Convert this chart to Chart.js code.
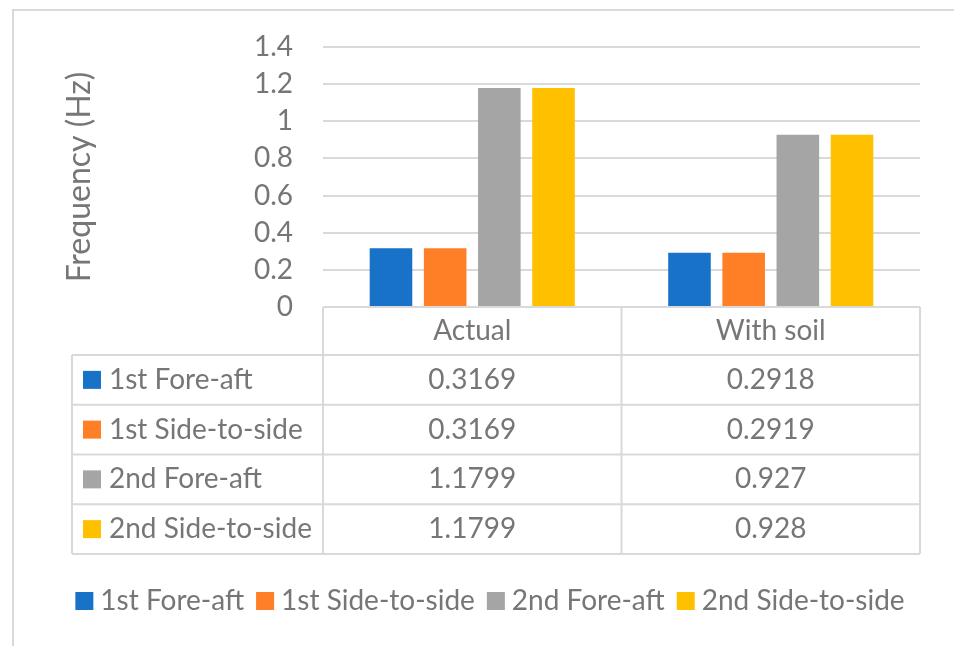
<!DOCTYPE html>
<html>
<head>
<meta charset="utf-8">
<title>Frequency chart</title>
<script src="https://cdn.jsdelivr.net/npm/chart.js@4.4.1/dist/chart.umd.min.js"></script>
<style>
  html, body { margin: 0; padding: 0; background: #fff; }
  #wrap { position: relative; width: 954px; height: 646px; overflow: hidden; }
  #frame { position: absolute; left: 12px; top: 9px; width: 960px; height: 660px;
           border-left: 2px solid #d9d9d9; border-top: 2px solid #d9d9d9; }
  canvas { position: absolute; left: 0; top: 0; }
</style>
</head>
<body>
<div id="wrap">
  <div id="frame"></div>
  <canvas id="freqChart" width="954" height="646"></canvas>
</div>
<script>
// data
const categories = ["Actual", "With soil"];
const seriesNames = ["1st Fore-aft", "1st Side-to-side", "2nd Fore-aft", "2nd Side-to-side"];
const firstForeAft = [0.3169, 0.2918];
const firstSideToSide = [0.3169, 0.2919];
const secondForeAft = [1.1799, 0.927];
const secondSideToSide = [1.1799, 0.928];
const yTicks = [0, 0.2, 0.4, 0.6, 0.8, 1, 1.2, 1.4];

const colors = ['#1872c8', '#ff7f27', '#a5a5a5', '#ffc000'];
const textColor = '#767676';
const lineColor = '#d9d9d9';
const fontFamily = 'Lato, "Open Sans", sans-serif';
const fontSize = 28;

// data table under the plot area + legend row, columns follow the x scale
const dataTable = {
    id: 'dataTable',
    afterDraw(chart) {
        const ctx = chart.ctx;
        const x = chart.scales.x;
        const top = chart.chartArea.bottom;
        const headerH = 48;
        const rowH = 49.75;
        const tableLeft = 72;
        const mid = (x.getPixelForValue(0) + x.getPixelForValue(1)) / 2;
        const cols = [x.left, mid, x.right];
        const datasets = chart.data.datasets;
        const bottom = top + headerH + rowH * datasets.length;

        ctx.save();
        ctx.strokeStyle = lineColor;
        ctx.lineWidth = 2;
        ctx.beginPath();
        ctx.moveTo(x.left, top);
        ctx.lineTo(x.right, top);
        for (let i = 0; i <= datasets.length; i++) {
            const yy = top + headerH + rowH * i;
            ctx.moveTo(tableLeft, yy);
            ctx.lineTo(x.right, yy);
        }
        ctx.moveTo(tableLeft, top + headerH);
        ctx.lineTo(tableLeft, bottom);
        cols.forEach(c => {
            ctx.moveTo(c, top);
            ctx.lineTo(c, bottom);
        });
        ctx.stroke();

        ctx.font = fontSize + 'px ' + fontFamily;
        ctx.textBaseline = 'middle';
        ctx.textAlign = 'center';
        ctx.fillStyle = textColor;
        chart.data.labels.forEach((c, i) => {
            ctx.fillText(c, x.getPixelForValue(i), top + headerH / 2);
        });
        datasets.forEach((ds, r) => {
            const yy = top + headerH + rowH * (r + 0.5);
            ctx.fillStyle = ds.backgroundColor;
            ctx.fillRect(tableLeft + 11, yy - 9, 18, 18);
            ctx.fillStyle = textColor;
            ctx.textAlign = 'left';
            ctx.fillText(ds.label, tableLeft + 37, yy);
            ctx.textAlign = 'center';
            ds.data.forEach((v, i) => {
                ctx.fillText(String(v), x.getPixelForValue(i), yy);
            });
        });

        // legend row
        const legendY = 601;
        const box = 18, boxGap = 7, itemGap = 12;
        const widths = datasets.map(ds => box + boxGap + ctx.measureText(ds.label).width);
        const total = widths.reduce((a, b) => a + b, 0) + itemGap * (widths.length - 1);
        let lx = 490 - total / 2;
        ctx.textAlign = 'left';
        datasets.forEach((ds, i) => {
            ctx.fillStyle = ds.backgroundColor;
            ctx.fillRect(lx, legendY - box / 2, box, box);
            ctx.fillStyle = textColor;
            ctx.fillText(ds.label, lx + box + boxGap, legendY);
            lx += widths[i] + itemGap;
        });
        ctx.restore();
    }
};

const freqChart = document.getElementById('freqChart');

new Chart(freqChart, {
    type: 'bar',
    data: {
        labels: categories,
        datasets: [
            { label: seriesNames[0], data: firstForeAft, backgroundColor: colors[0] },
            { label: seriesNames[1], data: firstSideToSide, backgroundColor: colors[1] },
            { label: seriesNames[2], data: secondForeAft, backgroundColor: colors[2] },
            { label: seriesNames[3], data: secondSideToSide, backgroundColor: colors[3] },
        ]
    },
    options: {
        responsive: false,
        animation: false,
        categoryPercentage: 0.726,
        barPercentage: 0.786,
        layout: {
            padding: { left: 60, right: 34, top: 47, bottom: 39 }
        },
        plugins: {
            legend: { display: false },
            tooltip: { enabled: false }
        },
        scales: {
            x: {
                grid: { display: false },
                border: { display: false },
                ticks: { display: false },
                afterFit(scale) { scale.height = 300; }
            },
            y: {
                min: 0,
                max: 1.4,
                afterBuildTicks(scale) {
                    scale.ticks = yTicks.map(v => ({ value: v }));
                },
                afterFit(scale) { scale.width = 263; },
                grid: { color: lineColor, lineWidth: 2, drawTicks: false },
                border: { display: false },
                ticks: {
                    padding: 30,
                    color: textColor,
                    font: { family: fontFamily, size: fontSize },
                    callback: (v) => String(+Number(v).toFixed(1))
                },
                title: {
                    display: true,
                    text: 'Frequency (Hz)',
                    color: textColor,
                    padding: { top: 0, bottom: 0 },
                    font: { family: fontFamily, size: 32 }
                }
            }
        }
    },
    plugins: [dataTable]
});
</script>
</body>
</html>
